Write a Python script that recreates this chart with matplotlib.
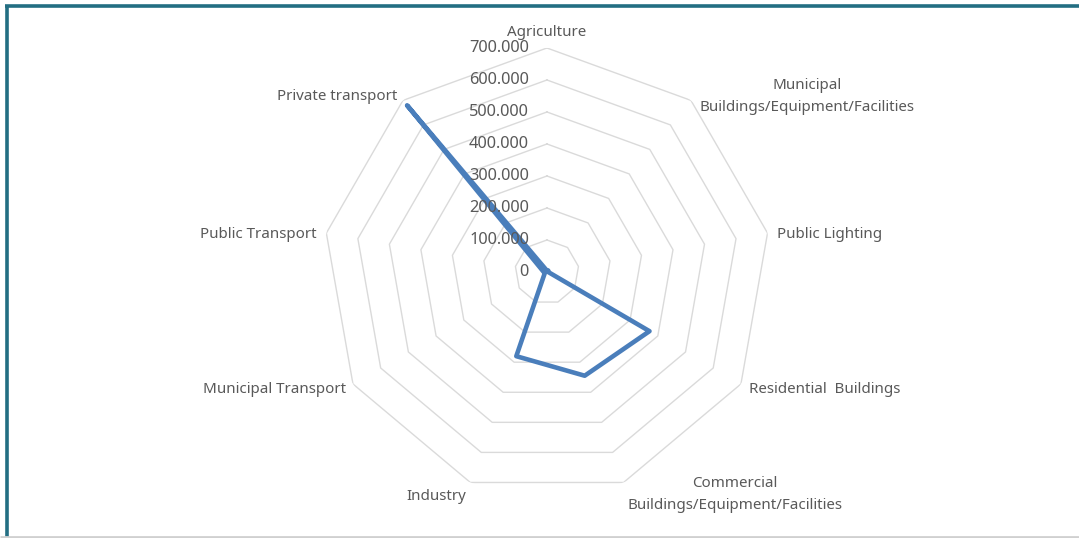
import numpy as np
import matplotlib.pyplot as plt
from matplotlib.lines import Line2D

# sectors, clockwise from the top
categories = [
    "Agriculture",
    "Municipal\nBuildings/Equipment/Facilities",
    "Public Lighting",
    "Residential  Buildings",
    "Commercial\nBuildings/Equipment/Facilities",
    "Industry",
    "Municipal Transport",
    "Public Transport",
    "Private transport",
]
values = [4000, 6000, 3000, 370000, 345000, 280000, 8000, 12000, 680000]
ring_values = [0, 100000, 200000, 300000, 400000, 500000, 600000, 700000]
ring_labels = ["0", "100.000", "200.000", "300.000", "400.000", "500.000", "600.000", "700.000"]

plt.rcParams["font.family"] = ["Noto Sans", "DejaVu Sans"]
text_col = "#595959"
grid_col = "#dadada"
line_col = "#4a7ebb"

fig = plt.figure(figsize=(10.79, 5.38), dpi=100)
ax = fig.add_axes([0.2993, 0.0781, 0.4152, 0.8327], projection="polar")
ax.set_theta_zero_location("N")
ax.set_theta_direction(-1)
ax.set_ylim(0, 700000)
ax.grid(False)
ax.spines["polar"].set_visible(False)
ax.set_xticks([])
ax.set_yticks([])
ax.patch.set_alpha(0)

n = len(categories)
angles = np.arange(n) * 2 * np.pi / n
closed = np.append(angles, angles[0])

# polygon rings instead of circles
for v in ring_values[1:]:
    ax.plot(closed, [v] * (n + 1), color=grid_col, lw=1.0, zorder=1)

ax.plot(closed, values + values[:1], color=line_col, lw=3.3,
        solid_joinstyle="round", solid_capstyle="round", zorder=3)

# value labels up the top axis
for v, lab in zip(ring_values, ring_labels):
    ax.annotate(lab, xy=(0, v), xytext=(-13, 0), textcoords="offset points",
                ha="right", va="center", fontsize=11.8, color=text_col,
                annotation_clip=False)

# category labels placed just outside the outer ring
label_pos = [
    ((0, 6), "center", "bottom"),
    ((6, 3), "left", "center"),
    ((7, -1), "left", "center"),
    ((6, -4), "left", "center"),
    ((3, 5), "left", "top"),
    ((-3, -5), "right", "top"),
    ((-5, -4), "right", "center"),
    ((-7, -1), "right", "center"),
    ((-4, 3), "right", "center"),
]
for ang, lab, (off, ha, va) in zip(angles, categories, label_pos):
    ax.annotate(lab, xy=(ang, 700000), xytext=off, textcoords="offset points",
                ha=ha, va=va, multialignment="center", linespacing=1.65,
                fontsize=10.9, color=text_col, annotation_clip=False)

# frame around the chart
frame = "#236e82"
fig.add_artist(Line2D([0.005, 1.0], [0.9885, 0.9885], color=frame, lw=2.6,
                      solid_capstyle="butt", transform=fig.transFigure))
fig.add_artist(Line2D([0.0065, 0.0065], [0.0, 0.99], color=frame, lw=2.6,
                      solid_capstyle="butt", transform=fig.transFigure))
fig.add_artist(Line2D([0.0, 1.0], [0.002, 0.002], color="#d0d0d0", lw=2,
                      solid_capstyle="butt", transform=fig.transFigure))

fig.savefig("out.png", dpi=100)
